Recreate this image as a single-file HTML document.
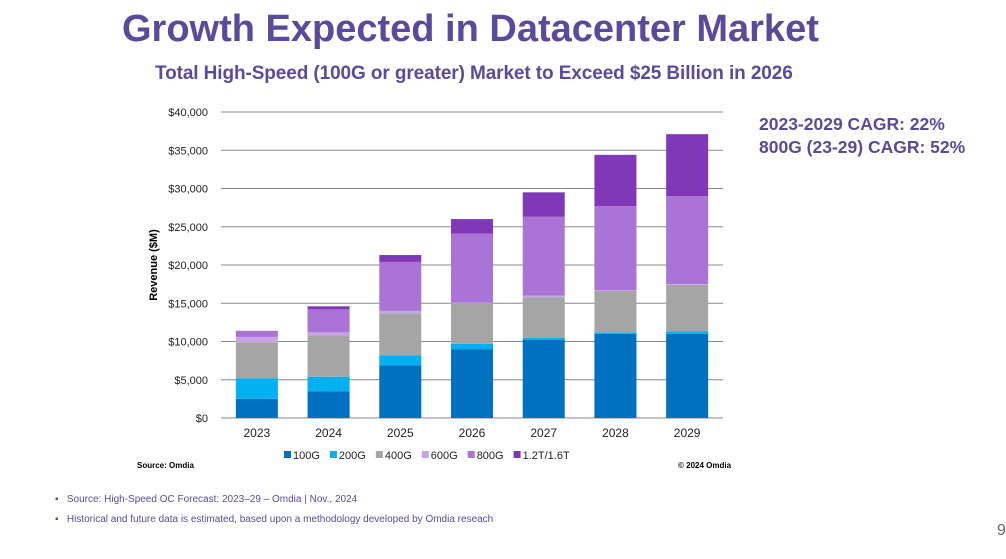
<!DOCTYPE html>
<html><head><meta charset="utf-8"><style>
body{margin:0;width:1006px;height:559px;background:#fff;font-family:"Liberation Sans",Arial,sans-serif;position:relative;overflow:hidden}
.t{position:absolute;white-space:nowrap}
</style></head><body>
<div class="t" style="left:122px;top:8px;font-size:38px;font-weight:bold;color:#5B4A9B">Growth Expected in Datacenter Market</div>
<div class="t" style="left:155px;top:63px;font-size:19px;font-weight:bold;color:#5B4A9B;letter-spacing:-0.1px">Total High-Speed (100G or greater) Market to Exceed $25 Billion in 2026</div>
<div class="t" style="left:759px;top:113px;font-size:17.5px;font-weight:bold;color:#5B4A9B;line-height:23px">2023-2029 CAGR: 22%<br>800G (23-29) CAGR: 52%</div>
<svg id="chart" width="1006" height="559" style="position:absolute;left:0;top:0"></svg>
<div class="t" style="left:137px;top:461px;font-size:8px;font-weight:bold">Source: Omdia</div>
<div class="t" style="left:678px;top:461px;font-size:8px;font-weight:bold">© 2024 Omdia</div>
<div class="t" style="left:55px;top:494px;font-size:10px;color:#5B4A9B">▪ &nbsp;&nbsp;Source: High-Speed OC Forecast: 2023–29 – Omdia | Nov., 2024</div>
<div class="t" style="left:55px;top:514px;font-size:10px;color:#5B4A9B">▪ &nbsp;&nbsp;Historical and future data is estimated, based upon a methodology developed by Omdia reseach</div>
<div class="t" style="left:997px;top:522px;font-size:16px;color:#666">9</div>
<script>
const years=["2023","2024","2025","2026","2027","2028","2029"];
const seriesNames=["100G","200G","400G","600G","800G","1.2T/1.6T"];
const s100=[2.5,3.5,6.9,9.0,10.2,11.0,11.0];
const s200=[2.7,1.9,1.3,0.7,0.3,0.2,0.3];
const s400=[4.7,5.4,5.5,5.3,5.3,5.4,6.1];
const s600=[0.7,0.4,0.3,0.1,0.2,0.1,0.1];
const s800=[0.8,3.0,6.4,9.0,10.3,11.0,11.5];
const s12t=[0,0.4,0.9,1.9,3.2,6.7,8.1];
const yTicks=[0,5000,10000,15000,20000,25000,30000,35000,40000];
const colors=["#0070C0","#00B0F0","#A5A5A5","#C9A3E8","#A974D6","#8038B8"];
const svg=document.getElementById('chart');const NS="http://www.w3.org/2000/svg";
const x0=221,x1=723,yBase=418,yTop=112,maxV=40000;
const yS=v=>yBase-(v/maxV)*(yBase-yTop);
const step=(x1-x0)/years.length;const xC=i=>x0+step*(i+0.5);const bw=42;
function mk(t,a){const e=document.createElementNS(NS,t);for(const k in a)e.setAttribute(k,a[k]);svg.appendChild(e);return e;}
yTicks.forEach(v=>{const g=mk('line',{x1:x0,x2:x1,y1:yS(v),y2:yS(v),stroke:'#888','stroke-width':1});

const t=mk('text',{x:208,y:yS(v)+4,'text-anchor':'end','font-size':11,fill:'#222'});t.textContent='$'+v.toLocaleString('en-US');
});
const yt=mk('text',{x:157,y:265,'text-anchor':'middle','font-size':11,'font-weight':'bold',transform:'rotate(-90 157 265)'});yt.textContent='Revenue ($M)';

const all=[s100,s200,s400,s600,s800,s12t];
years.forEach((yr,i)=>{let cum=0;all.forEach((s,k)=>{const v=s[i]*1000;if(v<=0)return;
const r=mk('rect',{x:xC(i)-bw/2,y:yS(cum+v),width:bw,height:yS(cum)-yS(cum+v),fill:colors[k]});
cum+=v;});
const t=mk('text',{x:xC(i),y:437,'text-anchor':'middle','font-size':12,fill:'#222'});t.textContent=yr;
});
let lx=284;seriesNames.forEach((n,k)=>{const r=mk('rect',{x:lx,y:451,width:7,height:7,fill:colors[k]});

const t=mk('text',{x:lx+9,y:459,'font-size':11,fill:'#222'});t.textContent=n;

lx+=9+t.getComputedTextLength()+10;});
</script>
</body></html>
